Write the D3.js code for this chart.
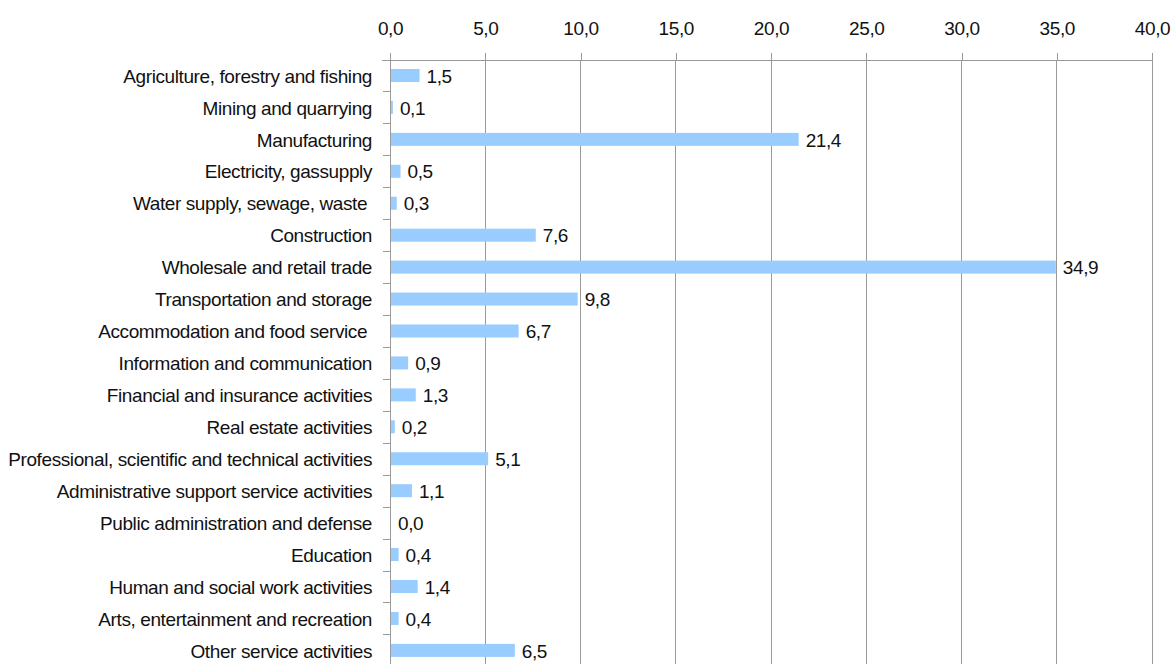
<!DOCTYPE html>
<html>
<head>
<meta charset="utf-8">
<script src="https://cdn.jsdelivr.net/npm/d3@7"></script>
<style>
  html, body { margin: 0; padding: 0; background: #fff; }
  svg text { font-family: "Liberation Sans", Arial, sans-serif; fill: #111; white-space: pre; }
</style>
</head>
<body>
<svg id="chart" width="1176" height="664"></svg>
<script>
// Share of enterprises by economic activity (%)
const categories = [
  "Agriculture, forestry and fishing",
  "Mining and quarrying",
  "Manufacturing",
  "Electricity, gassupply",
  "Water supply, sewage, waste ",
  "Construction",
  "Wholesale and retail trade",
  "Transportation and storage",
  "Accommodation and food service ",
  "Information and communication",
  "Financial and insurance activities",
  "Real estate activities",
  "Professional, scientific and technical activities",
  "Administrative support service activities",
  "Public administration and defense",
  "Education",
  "Human and social work activities",
  "Arts, entertainment and recreation",
  "Other service activities"
];
const values = [1.5, 0.1, 21.4, 0.5, 0.3, 7.6, 34.9, 9.8, 6.7, 0.9, 1.3, 0.2, 5.1, 1.1, 0.0, 0.4, 1.4, 0.4, 6.5];
const tickValues = [0, 5, 10, 15, 20, 25, 30, 35, 40];

const fmt = v => d3.format(".1f")(v).replace(".", ",");

const FONT_SIZE = 19;
const LETTER_SPACING = "-0.4";

const svg = d3.select("#chart");
const plotLeft = 390, plotRight = 1152, plotTop = 60;
const band = 31.94;
const plotBottom = plotTop + band * categories.length;

const x = d3.scaleLinear().domain([0, 40]).range([plotLeft, plotRight]);
const y = d3.scaleBand().domain(categories).range([plotTop, plotBottom]).paddingInner(0).paddingOuter(0);

// vertical gridlines
svg.append("g").selectAll("line").data(tickValues).join("line")
  .attr("x1", d => x(d)).attr("x2", d => x(d))
  .attr("y1", plotTop).attr("y2", plotBottom)
  .attr("stroke", "#9a9a9a").attr("stroke-width", 1).attr("shape-rendering", "crispEdges");

// top axis
const xAxis = d3.axisTop(x).tickValues(tickValues).tickFormat(fmt).tickSize(7).tickPadding(18);
const gx = svg.append("g").attr("transform", `translate(0,${plotTop})`).call(xAxis);
gx.select(".domain").attr("d", `M${plotLeft - 8},0.5H${plotRight}`).attr("stroke", "#9a9a9a").attr("shape-rendering", "crispEdges");
gx.selectAll(".tick line").attr("stroke", "#9a9a9a").attr("shape-rendering", "crispEdges");
gx.selectAll(".tick text").attr("font-size", FONT_SIZE).attr("font-family", "Liberation Sans, Arial, sans-serif").attr("fill", "#111")
  .attr("letter-spacing", LETTER_SPACING);

// left axis with ticks at category boundaries
const gy = svg.append("g");
gy.append("line").attr("x1", plotLeft).attr("x2", plotLeft).attr("y1", plotTop).attr("y2", plotBottom)
  .attr("stroke", "#9a9a9a").attr("shape-rendering", "crispEdges");
gy.selectAll("line.bt").data(categories.slice(1)).join("line").attr("class", "bt")
  .attr("x1", plotLeft - 7).attr("x2", plotLeft)
  .attr("y1", d => y(d)).attr("y2", d => y(d))
  .attr("stroke", "#9a9a9a").attr("shape-rendering", "crispEdges");

// category labels
svg.append("g").selectAll("text").data(categories).join("text")
  .attr("x", plotLeft - 18)
  .attr("y", d => y(d) + y.bandwidth() / 2)
  .attr("dy", "0.35em")
  .attr("text-anchor", "end")
  .attr("font-size", FONT_SIZE)
  .attr("letter-spacing", LETTER_SPACING)
  .text(d => d);

// bars
const barH = 13;
svg.append("g").selectAll("rect").data(values).join("rect")
  .attr("x", x(0) + 1)
  .attr("y", (d, i) => y(categories[i]) + y.bandwidth() / 2 - barH / 2 - 0.5)
  .attr("width", d => Math.max(0, x(d) - x(0)))
  .attr("height", barH)
  .attr("fill", "#99ccff");

// value labels
svg.append("g").selectAll("text").data(values).join("text")
  .attr("x", d => x(d) + 8)
  .attr("y", (d, i) => y(categories[i]) + y.bandwidth() / 2)
  .attr("dy", "0.35em")
  .attr("font-size", FONT_SIZE)
  .attr("letter-spacing", LETTER_SPACING)
  .text(d => fmt(d));
</script>
</body>
</html>
